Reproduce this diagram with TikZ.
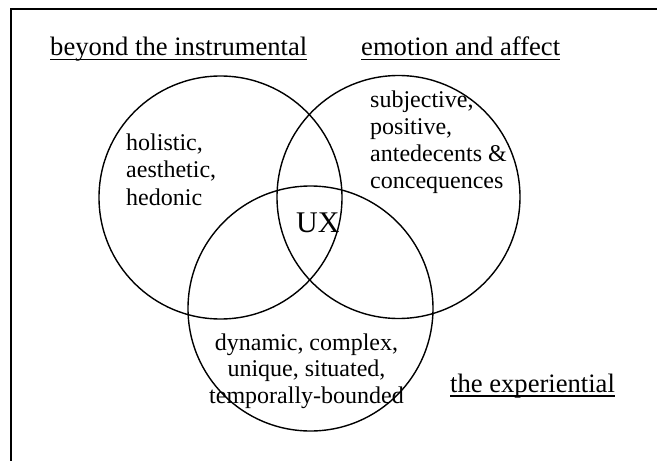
\documentclass[tikz,border=0pt]{standalone}
\usepackage{fontspec}
\setmainfont{Liberation Serif}
\begin{document}
\begin{tikzpicture}[x=1pt,y=-1pt,
  venn/.style={draw,circle,line width=1.4pt,inner sep=0pt,minimum size=#1},
  venn/.default=243pt,
  heading/.style={inner sep=0pt,anchor=base west,font=\fontsize{26.6}{30}\selectfont},
  body/.style={inner sep=0pt,font=\fontsize{24}{27.5}\selectfont},
  uline/.style={line width=1.4pt},
  frame/.style={line width=2pt}]
\useasboundingbox (0,0) rectangle (657,461);
\draw[frame] (11,475) -- (11,9) -- (670,9);
% circles
\node[venn] (inst) at (220.5,197.5) {};
\node[venn] (emo) at (398.5,197) {};
\node[venn=245pt] (exp) at (310.5,308.5) {};
% headings
\node[heading] (hbeyond) at (50,55) {beyond the instrumental};
\node[heading] (hemo) at (361,55) {emotion and affect};
\node[heading] (hexp) at (450,392) {the experiential};
\draw[uline] ([yshift=-4.5pt]hbeyond.base west) -- ([yshift=-4.5pt]hbeyond.base east);
\draw[uline] ([yshift=-4.5pt]hemo.base west) -- ([yshift=-4.5pt]hemo.base east);
\draw[uline] ([yshift=-4pt]hexp.base west) -- ([yshift=-4pt]hexp.base east);
% body texts (base anchor = baseline of the last line)
\node[body,align=left,anchor=base west] (tinst) at (126,205) {holistic,\\aesthetic,\\hedonic};
\node[body,align=left,anchor=base west,font=\fontsize{24}{27}\selectfont] (temo) at (370,188) {subjective,\\positive,\\antedecents \&\\concequences};
\node[body,align=center,anchor=base,font=\fontsize{24}{26.5}\selectfont] (texp) at (306.5,403) {dynamic, complex,\\unique, situated,\\temporally-bounded};
\node[inner sep=0pt,anchor=base west,font=\fontsize{30}{34}\selectfont] (ux) at (296,232) {UX};
\end{tikzpicture}
\end{document}
